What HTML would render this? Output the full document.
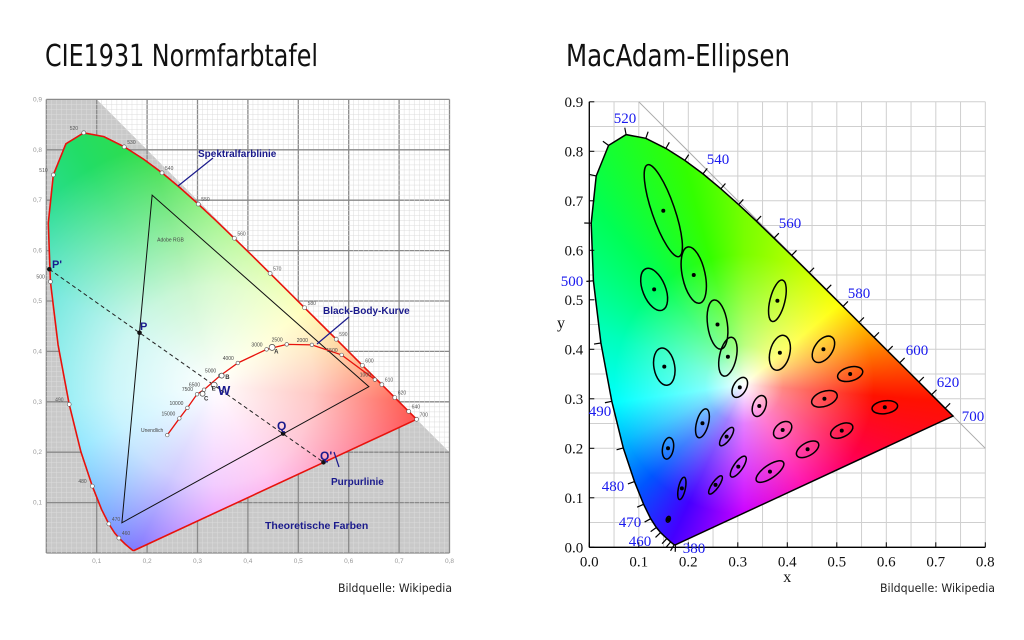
<!DOCTYPE html>
<html><head><meta charset="utf-8">
<style>
html,body{margin:0;padding:0;background:#fff;}
svg{display:block;}
.blab{font-family:"Liberation Sans",sans-serif;font-weight:bold;fill:#1a1a8c;}
.serif{font-family:"Liberation Serif",serif;}
.cond{font-family:"DejaVu Sans Condensed","DejaVu Sans","Liberation Sans",sans-serif;}
</style></head>
<body>
<svg id="root" width="1024" height="640" viewBox="0 0 1024 640" xmlns="http://www.w3.org/2000/svg">
<defs>
<clipPath id="clipL"><path id="clipLPath" d=""/></clipPath>
<clipPath id="clipR"><path id="clipRPath" d=""/></clipPath>
<radialGradient id="whiteL" cx="0.5" cy="0.5" r="0.5"><stop offset="0" stop-color="#fff" stop-opacity="1"/><stop offset="0.4" stop-color="#fff" stop-opacity="0.75"/><stop offset="1" stop-color="#fff" stop-opacity="0"/></radialGradient>
<radialGradient id="whiteR" cx="0.5" cy="0.5" r="0.5"><stop offset="0" stop-color="#fff" stop-opacity="1"/><stop offset="0.3" stop-color="#fff" stop-opacity="0.5"/><stop offset="1" stop-color="#fff" stop-opacity="0"/></radialGradient>
</defs>
<text x="45" y="66" class="cond" font-size="30" textLength="273" lengthAdjust="spacingAndGlyphs" fill="#111">CIE1931 Normfarbtafel</text>
<text x="566" y="66" class="cond" font-size="30" textLength="224" lengthAdjust="spacingAndGlyphs" fill="#111">MacAdam-Ellipsen</text>
<text x="338" y="592" class="cond" font-size="11.5" textLength="114" lengthAdjust="spacingAndGlyphs" fill="#222">Bildquelle: Wikipedia</text>
<text x="880" y="592" class="cond" font-size="11.5" textLength="115" lengthAdjust="spacingAndGlyphs" fill="#222">Bildquelle: Wikipedia</text>
<g id="left"></g>
<g id="right"></g>
</svg>
<script>
// Spectral locus data (CIE 1931)
const wavelengths=[380,420,440,450,460,465,470,475,480,485,490,495,500,505,510,515,520,525,530,535,540,545,550,555,560,565,570,575,580,585,590,595,600,610,620,640,700];
const locusX=[.1741,.1714,.1644,.1566,.1440,.1355,.1241,.1096,.0913,.0687,.0454,.0235,.0082,.0039,.0139,.0389,.0743,.1142,.1547,.1929,.2296,.2658,.3016,.3373,.3731,.4087,.4441,.4788,.5125,.5448,.5752,.6029,.6270,.6658,.6915,.7190,.7347];
const locusY=[.0050,.0051,.0109,.0177,.0297,.0399,.0578,.0868,.1327,.2007,.2950,.4127,.5384,.6548,.7502,.8120,.8338,.8262,.8059,.7816,.7543,.7243,.6923,.6589,.6245,.5896,.5547,.5202,.4866,.4544,.4242,.3965,.3725,.3340,.3083,.2809,.2653];
// Black body curve
const bbLabels=["Unendlich","15000","10000","7500","6500","5000","4000","3000","2500","2000","1500","1000"];
const bbX=[.240,.264,.280,.299,.313,.345,.380,.437,.477,.527,.586,.652];
const bbY=[.234,.267,.288,.315,.324,.352,.377,.404,.414,.413,.393,.344];
// Adobe RGB
const rgbX=[.64,.21,.15];
const rgbY=[.33,.71,.06];
// MacAdam ellipses
const ellX=[.1495,.211,.131,.259,.280,.380,.385,.473,.1515,.304,.527,.3434,.475,.597,.2286,.2774,.3906,.510,.159,.301,.441,.365,.187,.255,.1596];
const ellY=[.680,.550,.521,.450,.385,.498,.393,.400,.365,.323,.350,.2855,.300,.283,.2505,.2236,.237,.2357,.200,.163,.198,.153,.119,.126,.0566];
const ellA=[.098,.058,.045,.050,.040,.043,.036,.030,.038,.022,.026,.022,.027,.026,.030,.022,.021,.024,.022,.025,.025,.033,.023,.022,.006];
const ellB=[.023,.023,.023,.020,.017,.015,.020,.018,.021,.013,.014,.013,.015,.013,.012,.008,.014,.013,.011,.009,.013,.013,.007,.007,.004];
const ellAng=[109,102,112,98,78,76,76,55,100,60,15,70,20,8,75,55,40,25,80,55,30,35,78,55,70];
// Right chart wavelength labels
const wlLabels=["520","540","560","580","600","620","700","500","490","480","470","460","380"];
const wlLX=[625,718,790,859,917,948,973,572,600,613,630,640,694];
const wlLY=[118,159,223,293,350,382,416,281,411,486,522,541,548];
const rTicks=["0.0","0.1","0.2","0.3","0.4","0.5","0.6","0.7","0.8","0.9"];
const lTicksX=["0,1","0,2","0,3","0,4","0,5","0,6","0,7","0,8"];
const lTicksY=["0,1","0,2","0,3","0,4","0,5","0,6","0,7","0,8","0,9"];

const NS="http://www.w3.org/2000/svg";
function mk(parent,tag,attrs,text){const e=document.createElementNS(NS,tag);for(const k in attrs)e.setAttribute(k,attrs[k]);if(text!==undefined)e.textContent=text;parent.appendChild(e);return e;}

function locusPath(X,Y){let d="";for(let i=0;i<locusX.length;i++){d+=(i?"L":"M")+X(locusX[i]).toFixed(1)+","+Y(locusY[i]).toFixed(1);}return d+"Z";}

function colorFill(g,X,Y,clipId,wx,wy,whiteId,whiteR,grad){
  const fo=mk(g,"foreignObject",{x:0,y:0,width:1024,height:640,"clip-path":"url(#"+clipId+")"});
  
  
  const div=document.createElementNS("http://www.w3.org/1999/xhtml","div");
  const cx=X(wx),cy=Y(wy);
  div.setAttribute("style","width:1024px;height:640px;background:conic-gradient(from 0deg at "+cx+"px "+cy+"px,"+grad+");");
  fo.appendChild(div);
  const c=mk(g,"circle",{cx:cx,cy:cy,r:whiteR,fill:"url(#"+whiteId+")","clip-path":"url(#"+clipId+")"});
  
  
}

// ---------- LEFT CHART ----------
(function(){
  const g=document.getElementById("left");
  const X=x=>46.3+x*504, Y=y=>553-y*504;
  mk(g,"rect",{x:X(0),y:Y(0.9),width:X(0.8)-X(0),height:Y(0)-Y(0.9),fill:"#fff"});
  const gray=mk(g,"polygon",{fill:"#c9c9c9"});
  gray.setAttribute('points',`${X(0)},${Y(0)} ${X(0)},${Y(0.9)} ${X(0.1)},${Y(0.9)} ${X(0.8)},${Y(0.2)} ${X(0.8)},${Y(0)}`);
  
  
  for(let i=0;i<=90;i++){
    const y=i/100, maj=i%10===0;
    if(i<=80){const x=i/100;mk(g,"line",{x1:X(x),x2:X(x),y1:Y(0),y2:Y(0.9),stroke:maj?"#8a8a8a":"#dcdcdc","stroke-width":maj?1.3:0.5});}
    mk(g,"line",{x1:X(0),x2:X(0.8),y1:Y(y),y2:Y(y),stroke:maj?"#8a8a8a":"#dcdcdc","stroke-width":maj?1.3:0.5});
  }
  document.getElementById("clipLPath").setAttribute("d",locusPath(X,Y));
  colorFill(g,X,Y,"clipL",0.333,0.333,"whiteL",250,"#6e4 0deg,#bf3 30deg,#ff3 50deg,#fa2 70deg,#f21 95deg,#f25 120deg,#f3c 150deg,#c3f 180deg,#43f 205deg,#28f 225deg,#2cf 245deg,#3de 262deg,#3dc 300deg,#2d6 330deg,#3d4 345deg,#6e4 360deg");
  const lp=mk(g,"path",{d:locusPath(X,Y),fill:"none",stroke:"#e8120c","stroke-width":1.6});
  
  
  const lw=[460,470,480,490,500,510,520,530,540,550,560,570,580,590,600,610,620,640,700];
  for(let i=0;i<wavelengths.length;i++){
    if(lw.indexOf(wavelengths[i])<0)continue;
    const c=mk(g,"circle",{cx:X(locusX[i]),cy:Y(locusY[i]),r:2,fill:"#fff",stroke:"#555","stroke-width":0.6});
    
    
    const t=mk(g,"text",{x:X(locusX[i])+(locusX[i]<0.1?-14:3),y:Y(locusY[i])-3,"font-size":5,fill:"#555","font-family":"Liberation Sans,sans-serif"},String(wavelengths[i]));
    
    
  }
  const tri=mk(g,"polygon",{points:rgbX.map((x,i)=>X(x)+","+Y(rgbY[i])).join(" "),fill:"none",stroke:"#111","stroke-width":1});
  
  
  mk(g,"text",{x:X(0.22),y:Y(0.618),"font-size":5,fill:"#444","font-family":"Liberation Sans,sans-serif"},"Adobe RGB");
  const dl=mk(g,"line",{x1:X(0.006),y1:Y(0.563),x2:X(0.55),y2:Y(0.18),stroke:"#222","stroke-width":1,"stroke-dasharray":"4,3"});
  
  
  let d="";bbX.forEach((x,i)=>{d+=(i?"L":"M")+X(x)+","+Y(bbY[i]);});
  const bb=mk(g,"path",{d:d,fill:"none",stroke:"#e8120c","stroke-width":1.3});
  
  
  bbX.forEach((x,i)=>{
    const c=mk(g,"circle",{cx:X(x),cy:Y(bbY[i]),r:1.8,fill:"#fff",stroke:"#555","stroke-width":0.6});
    
    
    const t=mk(g,"text",{x:X(x)-4,y:Y(bbY[i])-3,"font-size":5,fill:"#444","text-anchor":"end","font-family":"Liberation Sans,sans-serif"},bbLabels[i]);
    
    
  });
  [[0.333,0.333,3],[0.448,0.408,3],[0.348,0.352,2.5],[0.31,0.316,2.5]].forEach(p=>{mk(g,"circle",{cx:X(p[0]),cy:Y(p[1]),r:p[2],fill:"#fff",stroke:"#444","stroke-width":0.7});});
  [["A",0.452,0.396],["B",0.355,0.345],["C",0.313,0.303],["E",0.328,0.322]].forEach(p=>{mk(g,"text",{x:X(p[1]),y:Y(p[2]),"font-size":6,"font-weight":"bold",fill:"#333","font-family":"Liberation Sans,sans-serif"},p[0]);});
  [[0.006,0.563],[0.185,0.437],[0.47,0.237],[0.55,0.18]].forEach(p=>{const c=mk(g,"circle",{cx:X(p[0]),cy:Y(p[1]),r:2.3,fill:"#111"});});
  [["P'",52,268,11],["P",140,330,11],["W",218,395,13],["Q",277,430,12],["Q'",320,460,12]].forEach(p=>{const t=mk(g,"text",{x:p[1],y:p[2],"font-size":p[3],class:"blab"},p[0]);});
  const ann=[["Spektralfarblinie",198,157,10],["Black-Body-Kurve",323,314,10],["Purpurlinie",331,485,10],["Theoretische Farben",265,529,10.5]];
  ann.forEach(a=>{const t=mk(g,"text",{x:a[1],y:a[2],"font-size":a[3],class:"blab"},a[0]);});
  [[213,158,178,186],[349,317,317,344],[339,467,334,452]].forEach(l=>{mk(g,"line",{x1:l[0],y1:l[1],x2:l[2],y2:l[3],stroke:"#1a1a8c","stroke-width":1.2});});
  lTicksX.forEach((t,i)=>{
    const v=(i+1)/10;
    const a=mk(g,"text",{x:X(v),y:563,"font-size":6.5,fill:"#999","text-anchor":"middle","font-family":"Liberation Sans,sans-serif"},t);
    
  });
  lTicksY.forEach((t,i)=>{
    const v=(i+1)/10;
    const b=mk(g,"text",{x:42,y:Y(v)+2,"font-size":6.5,fill:"#999","text-anchor":"end","font-family":"Liberation Sans,sans-serif"},t);
    
  });
})();

// ---------- RIGHT CHART ----------
(function(){
  const g=document.getElementById("right");
  const X=x=>589.3+x*495, Y=y=>547.3-y*495;
  for(let i=0;i<=18;i++){
    const v=i*0.05;
    if(v<=0.8001){mk(g,"line",{x1:X(v),x2:X(v),y1:Y(0),y2:Y(0.9),stroke:"#cfcfcf","stroke-width":1});}
    mk(g,"line",{x1:X(0),x2:X(0.8),y1:Y(v),y2:Y(v),stroke:"#cfcfcf","stroke-width":1});
  }
  const diag=mk(g,"line",{x1:X(0.1),y1:Y(0.9),x2:X(0.8),y2:Y(0.2),stroke:"#aaa","stroke-width":1});
  
  
  document.getElementById("clipRPath").setAttribute("d",locusPath(X,Y));
  colorFill(g,X,Y,"clipR",0.3127,0.329,"whiteR",130,"#7f0 0deg,#cf0 30deg,#ff0 50deg,#f90 70deg,#f10 95deg,#f04 120deg,#f0a 150deg,#c0f 180deg,#40f 205deg,#05f 225deg,#0bf 245deg,#0ff 262deg,#0fb 290deg,#0f5 320deg,#3f0 345deg,#7f0 360deg");
  const lp=mk(g,"path",{d:locusPath(X,Y),fill:"none",stroke:"#000","stroke-width":1.5});
  
  
  const cx=X(0.33),cy=Y(0.33);
  for(let i=0;i<wavelengths.length-1;i++){
    const px=X(locusX[i]),py=Y(locusY[i]);
    const i0=Math.max(0,i-1),i1=Math.min(wavelengths.length-1,i+1);
    let tx=X(locusX[i1])-X(locusX[i0]),ty=Y(locusY[i1])-Y(locusY[i0]);
    const L=Math.hypot(tx,ty)||1;let nx=-ty/L,ny=tx/L;
    if((px-cx)*nx+(py-cy)*ny<0){nx=-nx;ny=-ny;}
    const t=mk(g,"line",{x1:px,y1:py,x2:px+nx*7,y2:py+ny*7,stroke:"#000","stroke-width":1.2});
    
    
  }
  ellX.forEach((x,i)=>{
    const e=mk(g,"ellipse",{cx:X(x),cy:Y(ellY[i]),rx:ellA[i]*495,ry:ellB[i]*495,fill:"none",stroke:"#000","stroke-width":1.5,transform:"rotate("+(-ellAng[i])+" "+X(x)+" "+Y(ellY[i])+")"});
    
    
    const d=mk(g,"circle",{cx:X(x),cy:Y(ellY[i]),r:2,fill:"#000"});
    
    
  });
  mk(g,"line",{x1:X(0),y1:Y(0),x2:X(0.8),y2:Y(0),stroke:"#000","stroke-width":1.3});
  mk(g,"line",{x1:X(0),y1:Y(0),x2:X(0),y2:Y(0.9),stroke:"#000","stroke-width":1.3});
  rTicks.forEach((t,i)=>{
    const v=i/10;
    if(v<=0.8001){
      mk(g,"line",{x1:X(v),y1:Y(0),x2:X(v),y2:Y(0)-5,stroke:"#000","stroke-width":1});
      const a=mk(g,"text",{x:X(v),y:Y(0)+19,"font-size":15,"text-anchor":"middle",class:"serif",fill:"#111"},t);
      
    }
    mk(g,"line",{x1:X(0),y1:Y(v),x2:X(0)+5,y2:Y(v),stroke:"#000","stroke-width":1});
    const b=mk(g,"text",{x:X(0)-6,y:Y(v)+5,"font-size":15,"text-anchor":"end",class:"serif",fill:"#111"},t);
    
  });
  const xt=mk(g,"text",{x:X(0.4),y:582,"font-size":16,"text-anchor":"middle",class:"serif",fill:"#111"},"x");
  
  const yt=mk(g,"text",{x:561,y:328,"font-size":16,"text-anchor":"middle",class:"serif",fill:"#111"},"y");
  
  wlLabels.forEach((t,i)=>{
    const a=mk(g,"text",{x:wlLX[i],y:wlLY[i]+5,"font-size":15,"text-anchor":"middle",class:"serif",fill:"#1a1aee"},t);
    
  });
})();
</script>
</body></html>
